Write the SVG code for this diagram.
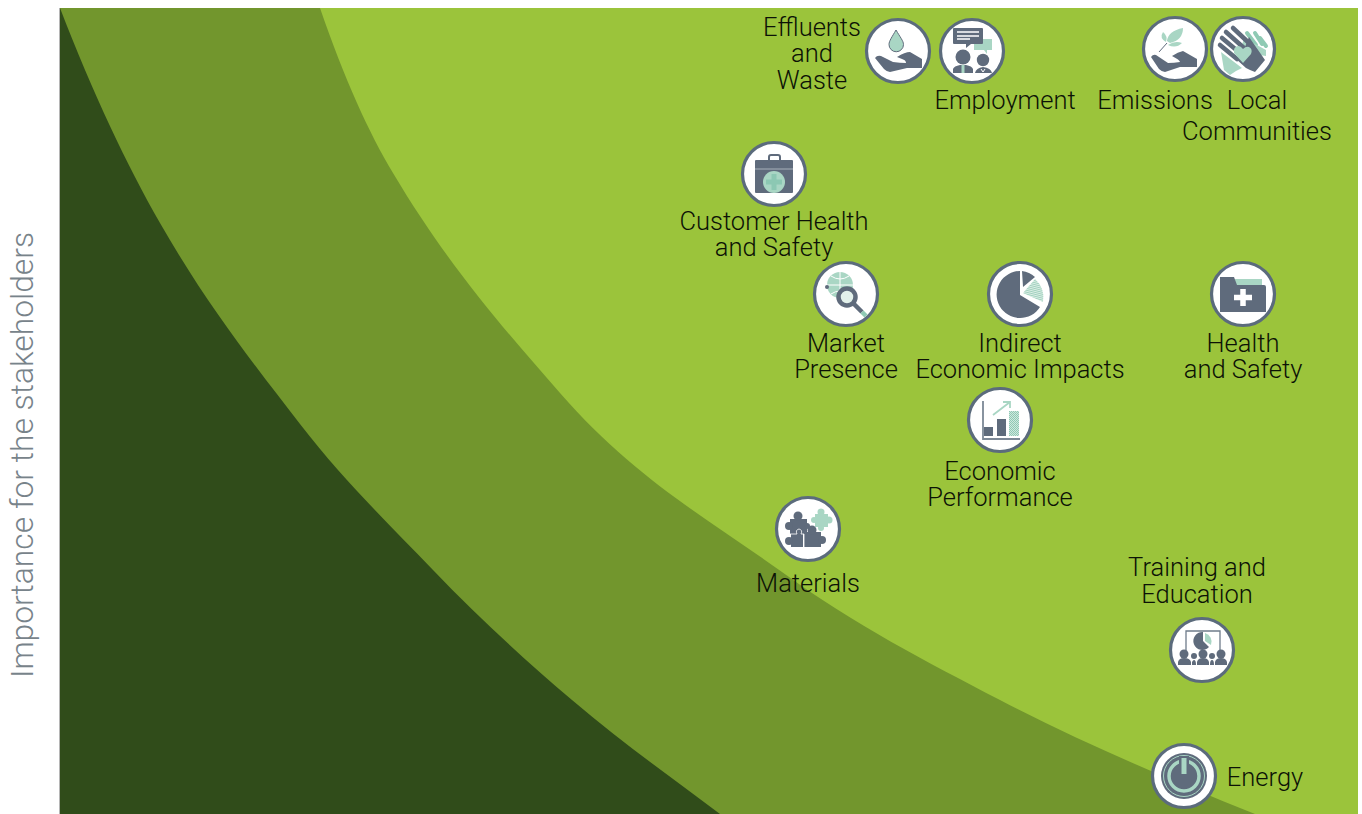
<svg xmlns="http://www.w3.org/2000/svg" width="1362" height="814" viewBox="0 0 1362 814">
<defs>
<pattern id="hatch" width="2" height="2" patternUnits="userSpaceOnUse" patternTransform="rotate(75)"><rect width="2" height="2" fill="#e4f2ec"/><rect width="1.100" height="2" fill="#9fd1bd"/></pattern>
<pattern id="dots" width="2" height="2" patternUnits="userSpaceOnUse"><rect width="2" height="2" fill="#cfe8de"/><rect width="1" height="1" fill="#8fc9b5"/><rect x="1" y="1" width="1" height="1" fill="#8fc9b5"/></pattern>
</defs>
<style>
text{font-family:Roboto,"Liberation Sans",Arial,sans-serif;font-weight:300;font-size:25.500px;fill:#0c1206;text-anchor:middle}
.c{fill:#fff;stroke:#5b6b7c;stroke-width:3.200}
.d{fill:#5f6b7c}
.m{fill:#a9d6c4}
.fd{stroke:#5f6b7c;stroke-width:4.500;stroke-linecap:round;fill:none}
.fm{stroke:#8fcab4;stroke-width:4;stroke-linecap:round;fill:none}
</style>
<rect width="1362" height="814" fill="#fff"/>
<g id="bands">
<rect x="60" y="8" width="1298" height="806" fill="#9bc43b"/>
<path id="band-mid" d="M320 8C344 78 369 133 393 173C449 267 504 329 560 393C634 478 708 519 782 572C855 625 927 662 1000 700C1085 744 1170 780 1255 814H60V8Z" fill="#72962d"/>
<path id="band-dark" d="M60 8C93 94 127 165 160 223C207 305 253 363 300 424C344 481 389 524 433 570C479 618 526 661 572 700C621 742 671 777 720 814H60Z" fill="#304c1a"/>
<path d="M59.500 8V814" stroke="#b5b5b5" stroke-width="1"/>
</g>
<text id="axis-label" transform="translate(33 455) rotate(-90)" style="font-size:31.800px;fill:#78838a">Importance for the stakeholders</text>
<g id="connectors"/>
<g id="effluents">
<circle class="c" cx="898" cy="51" r="31.500"/>
<path class="m" d="M896 30C892 37 889 41 889 44.500A7.200 7.200 0 0 0 903.500 44.500C903.500 41 900 37 896 30Z" stroke="#5f6b7c" stroke-width="1"/>
<path class="d" d="M875 58Q877 55 881 56L893 62Q900 63 906 63Q906 60 902 59L897 57Q905 52 910 52L922 59V68H907L890 72Q887 72 884 69Z"/>
<text><tspan x="812" y="36">Effluents</tspan><tspan x="812" y="62">and</tspan><tspan x="812" y="89">Waste</tspan></text>
</g>
<g id="employment">
<circle class="c" cx="972" cy="51" r="31.500"/>
<path class="m" d="M974 39H992V50H987V54L984 50H974Z"/>
<path class="d" d="M954 28H982Q983 28 983 29V43Q983 44 982 44H971L966 48V44H954Q953 44 953 43V29Q953 28 954 28Z"/>
<path d="M957 32H979M957 36H979M957 39H970" stroke="#fff" stroke-width="1.500"/>
<circle class="d" cx="963" cy="57" r="7.500"/><circle class="d" cx="983" cy="60" r="6.200"/>
<path class="d" d="M953 73V69Q954 66 960 65H966Q972 66 973 69V73ZM975 73Q976 68 983 67Q991 68 992 73Z"/>
<rect class="m" x="961.500" y="65" width="3" height="8"/>
<path d="M981 69L983 72L985 69" fill="none" stroke="#fff"/>
<text x="1005" y="109">Employment</text>
</g>
<g id="emissions">
<circle class="c" cx="1175" cy="49" r="31.500"/>
<path class="m" d="M1167 41Q1168 31 1183 28Q1183 40 1170 43ZM1166 42Q1159 38 1163 32Q1168 36 1166 42ZM1168 45Q1175 40 1182 43Q1176 49 1168 45Z"/>
<path d="M1159 52L1167 43" stroke="#5f6b7c" stroke-width="1"/>
<path class="d" d="M1151 57Q1153 54 1156 55L1168 63Q1174 63 1180 62Q1180 60 1172 56Q1178 52 1183 51L1197 59V67H1180L1165 72Q1162 72 1159 69Z"/>
<text x="1155" y="109">Emissions</text>
</g>
<g id="local-communities">
<circle class="c" cx="1243" cy="49" r="31.500"/>
<path class="m" d="M1221 52L1242 68L1236 71L1230 75L1224 70Z"/>
<path class="fm" d="M1247 33L1256 45M1255 33L1262 44M1260 38L1266 46"/>
<path class="m" d="M1244 38L1266 50V56L1240 52Z"/>
<path class="fd" d="M1233 28L1249 43M1226 32L1244 48M1222 38L1240 53M1220 45L1237 59"/>
<path class="d" d="M1249 37L1265 60L1255 72L1250 70L1246 68L1236 59L1245 47Z"/>
<path class="m" d="M1243 63L1234 53Q1233 47 1238 46Q1241 46 1243 49Q1246 46 1249 47Q1253 49 1251 54Z"/>
<text><tspan x="1257" y="109">Local</tspan><tspan x="1257" y="140">Communities</tspan></text>
</g>
<g id="customer-health">
<circle class="c" cx="774" cy="174" r="31.500"/>
<path d="M769 160V157Q769 155 771 155H778Q780 155 780 157V160" fill="none" stroke="#5f6b7c" stroke-width="2"/>
<rect class="d" x="755" y="160" width="38" height="33" rx="1"/>
<path d="M755 169H793" stroke="#a9b2bb" stroke-width="1"/>
<circle class="m" cx="774" cy="182" r="11"/>
<path d="M774 174V190M766 182H782" stroke="#8cc8b3" stroke-width="5"/>
<text><tspan x="774" y="230">Customer Health</tspan><tspan x="774" y="256">and Safety</tspan></text>
</g>
<g id="market-presence">
<circle class="c" cx="846" cy="294" r="31.500"/>
<circle class="m" cx="840" cy="285" r="13"/>
<path d="M827 285H853M840 272V298M831 276Q840 282 849 276M831 294Q840 288 849 294" stroke="#fff" fill="none"/>
<circle class="d" cx="827" cy="287" r="2"/>
<circle cx="847" cy="297" r="8.500" fill="#e3f1eb" stroke="#5f6b7c" stroke-width="4.500"/>
<path d="M853 303L862 312" stroke="#5f6b7c" stroke-width="4.500"/><path d="M862 312L866 316" stroke="#8fc9b5" stroke-width="4.500"/>
<text><tspan x="846" y="352">Market</tspan><tspan x="846" y="378">Presence</tspan></text>
</g>
<g id="indirect-economic">
<circle class="c" cx="1020" cy="294" r="31.500"/>
<path class="d" d="M1020 271V295L1040 307A23.500 23.500 0 1 1 1020 271Z"/>
<path class="d" d="M1022 271A24 24 0 0 1 1035 277L1023 287Z"/>
<path fill="url(#hatch)" d="M1035 279A25 25 0 0 1 1043 302L1023 293Z"/>
<text><tspan x="1020" y="352">Indirect</tspan><tspan x="1020" y="378">Economic Impacts</tspan></text>
</g>
<g id="health-safety">
<circle class="c" cx="1243" cy="294" r="31.500"/>
<rect class="m" x="1235" y="279" width="27" height="6"/>
<path class="d" d="M1220 277H1234L1237 285H1264Q1266 285 1266 287V312H1220Z"/>
<path d="M1243 289V306M1234 297.500H1252" stroke="#fff" stroke-width="5.500"/>
<text><tspan x="1243" y="352">Health</tspan><tspan x="1243" y="378">and Safety</tspan></text>
</g>
<g id="economic-performance">
<circle class="c" cx="1000" cy="420" r="31.500"/>
<path d="M983 401V439H1020" fill="none" stroke="#7c8896" stroke-width="1.800"/>
<rect class="d" x="984" y="427" width="9" height="9"/><rect class="d" x="997" y="419" width="9" height="17"/>
<rect fill="url(#dots)" x="1009" y="411" width="10" height="25"/>
<path d="M993 415L1010 402M1003 402H1010V408" fill="none" stroke="#a9d6c4" stroke-width="1.800"/>
<text><tspan x="1000" y="480">Economic</tspan><tspan x="1000" y="506">Performance</tspan></text>
</g>
<g id="materials">
<circle class="c" cx="808" cy="529" r="31.500"/>
<g class="m"><rect x="815" y="514" width="13" height="13"/><circle cx="814" cy="520" r="3"/><circle cx="829" cy="520" r="3.500"/><circle cx="821" cy="512" r="3.500"/><circle cx="821" cy="528" r="3"/></g>
<g class="d"><rect x="790" y="519" width="17" height="15"/><circle cx="798" cy="516" r="4.500"/><circle cx="789" cy="526" r="4"/><circle cx="807" cy="526" r="3"/>
<rect x="791" y="534" width="12" height="13"/><circle cx="789" cy="541" r="4"/>
<rect x="804" y="532" width="17" height="15"/><circle cx="812" cy="530" r="4.500"/><circle cx="822" cy="540" r="4"/></g>
<path d="M790 534H797Q795 530 799 529Q803 530 801 534H804V547" fill="none" stroke="#fff" stroke-width="0.800"/>
<text x="808" y="592">Materials</text>
</g>
<g id="training">
<circle class="c" cx="1202" cy="650" r="31.500"/>
<path d="M1186 652V631H1220V652" fill="none" stroke="#6f7c8b" stroke-width="1.300"/>
<path class="d" d="M1203 632V641L1209 647A9 9 0 1 1 1203 632Z"/>
<path class="m" d="M1205 633A9 9 0 0 1 1211 645L1205 641Z"/>
<g class="d"><circle cx="1184" cy="654" r="4.500"/><circle cx="1194" cy="656" r="3"/><circle cx="1203" cy="654" r="4.500"/><circle cx="1212" cy="656" r="3"/><circle cx="1221" cy="654" r="4.500"/>
<path d="M1178 665V662Q1179 658 1184 658Q1190 658 1191 662V665ZM1192 665V662Q1193 660 1194 660Q1196 660 1196 665ZM1197 665V662Q1198 658 1203 658Q1208 658 1209 662V665ZM1210 665Q1210 660 1212 660Q1214 660 1214 665ZM1215 665V662Q1216 658 1221 658Q1226 658 1227 662V665Z"/></g>
<text><tspan x="1197" y="576">Training and</tspan><tspan x="1197" y="603">Education</tspan></text>
</g>
<g id="energy">
<circle class="c" cx="1184" cy="776" r="31.500"/>
<circle cx="1184" cy="776" r="23" fill="#5f6b7c"/>
<circle cx="1184" cy="776" r="20.500" fill="none" stroke="#a9d6c4" stroke-width="1"/>
<circle cx="1184" cy="776" r="15" fill="none" stroke="#a9d6c4" stroke-width="3.500"/>
<rect x="1179" y="756" width="10" height="19" fill="#5f6b7c"/>
<rect class="m" x="1181.500" y="758" width="5" height="16"/>
<text x="1265" y="786">Energy</text>
</g>
</svg>
